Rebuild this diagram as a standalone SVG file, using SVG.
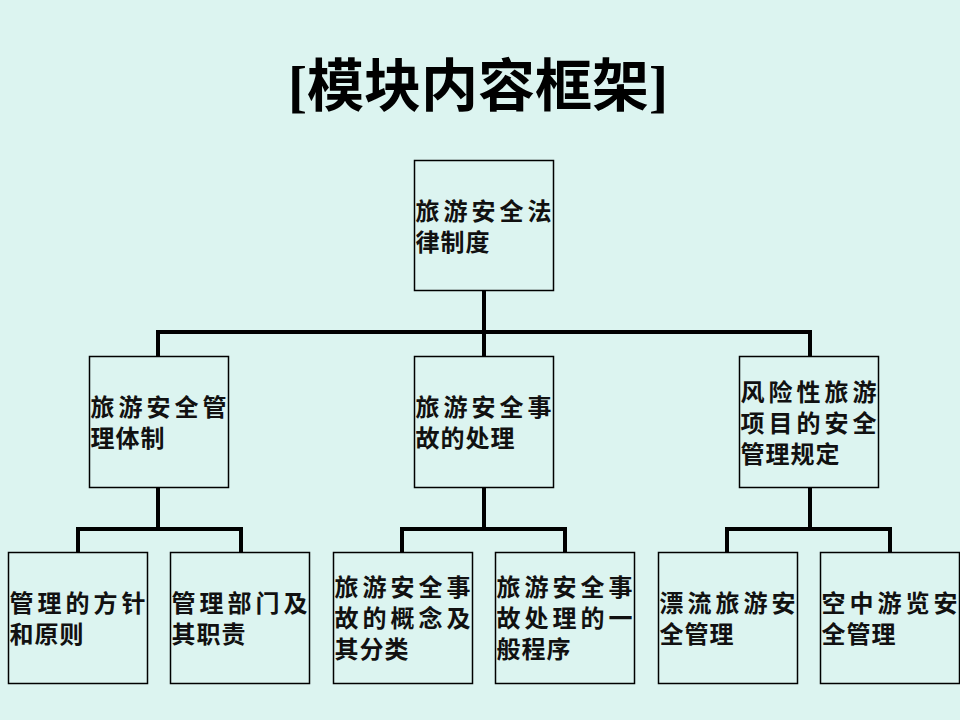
<svg xmlns="http://www.w3.org/2000/svg" width="960" height="720" viewBox="0 0 960 720">
<style>
.bg{fill:#dcf4f0}
.box{fill:#dcf4f0;stroke:#000;stroke-width:1.5}
.t{font-family:"Noto Sans CJK SC","Noto Sans CJK TC",sans-serif;font-size:24px;font-weight:bold;fill:#111}
.l{letter-spacing:1px}
.title{font-family:"Liberation Serif","Noto Sans CJK SC",serif;font-size:57px;font-weight:bold;fill:#000}
.c{fill:none;stroke:#000;stroke-width:4;stroke-linecap:square}
</style>
<rect class="bg" x="0" y="0" width="960" height="720"/>
<text class="title" x="478" y="106" text-anchor="middle">[<tspan font-family="Noto Sans CJK SC, sans-serif">模块内容框架</tspan>]</text>
<g id="connectors">
<path class="c" d="M484 290V356M158 332H810M158 332V356M810 332V356"/>
<path class="c" d="M158 488V529M78 529H241M78 529V552M241 529V552"/>
<path class="c" d="M484 488V529M402 529H565M402 529V552M565 529V552"/>
<path class="c" d="M810 488V529M727 529H890M727 529V552M890 529V552"/>
</g>
<g id="n0"><rect class="box" x="414.5" y="160.5" width="139" height="130"/>
<text class="t"><tspan x="415.5 443.5 471.5 499.5 527.5" y="219.5">旅游安全法</tspan><tspan class="l" x="415.5" y="250.5">律制度</tspan></text></g>
<g id="n1"><rect class="box" x="89.5" y="356.5" width="139" height="131"/>
<text class="t"><tspan x="90.5 118.5 146.5 174.5 202.5" y="416">旅游安全管</tspan><tspan class="l" x="90.5" y="447">理体制</tspan></text></g>
<g id="n2"><rect class="box" x="414.5" y="356.5" width="139" height="131"/>
<text class="t"><tspan x="415.5 443.5 471.5 499.5 527.5" y="416">旅游安全事</tspan><tspan class="l" x="415.5" y="447">故的处理</tspan></text></g>
<g id="n3"><rect class="box" x="739.5" y="356.5" width="139" height="131"/>
<text class="t"><tspan x="740.5 768.5 796.5 824.5 852.5" y="400.5">风险性旅游</tspan><tspan x="740.5 768.5 796.5 824.5 852.5" y="431.5">项目的安全</tspan><tspan class="l" x="740.5" y="462.5">管理规定</tspan></text></g>
<g id="n4"><rect class="box" x="8.5" y="552.5" width="139" height="131"/>
<text class="t"><tspan x="9.5 37.5 65.5 93.5 121.5" y="611.5">管理的方针</tspan><tspan class="l" x="9.5" y="642.5">和原则</tspan></text></g>
<g id="n5"><rect class="box" x="170.5" y="552.5" width="139" height="131"/>
<text class="t"><tspan x="171.5 199.5 227.5 255.5 283.5" y="611.5">管理部门及</tspan><tspan class="l" x="171.5" y="642.5">其职责</tspan></text></g>
<g id="n6"><rect class="box" x="333.5" y="552.5" width="139" height="131"/>
<text class="t"><tspan x="334.5 362.5 390.5 418.5 446.5" y="595.5">旅游安全事</tspan><tspan x="334.5 362.5 390.5 418.5 446.5" y="626.5">故的概念及</tspan><tspan class="l" x="334.5" y="657.5">其分类</tspan></text></g>
<g id="n7"><rect class="box" x="495.5" y="552.5" width="139" height="131"/>
<text class="t"><tspan x="496.5 524.5 552.5 580.5 608.5" y="595.5">旅游安全事</tspan><tspan x="496.5 524.5 552.5 580.5 608.5" y="626.5">故处理的一</tspan><tspan class="l" x="496.5" y="657.5">般程序</tspan></text></g>
<g id="n8"><rect class="box" x="658.5" y="552.5" width="139" height="131"/>
<text class="t"><tspan x="659.5 687.5 715.5 743.5 771.5" y="611.5">漂流旅游安</tspan><tspan class="l" x="659.5" y="642.5">全管理</tspan></text></g>
<g id="n9"><rect class="box" x="820.5" y="552.5" width="139" height="131"/>
<text class="t"><tspan x="821.5 849.5 877.5 905.5 933.5" y="611.5">空中游览安</tspan><tspan class="l" x="821.5" y="642.5">全管理</tspan></text></g>
</svg>
